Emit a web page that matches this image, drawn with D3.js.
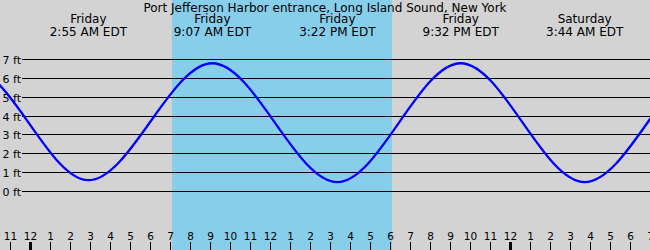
<!DOCTYPE html>
<html>
<head>
<meta charset="utf-8">
<script src="https://cdn.jsdelivr.net/npm/d3@7"></script>
<style>
  html, body { margin: 0; padding: 0; background: #fff; }
  svg { display: block; font-family: "DejaVu Sans", sans-serif; }
</style>
</head>
<body>
<svg id="chart" width="650" height="250"></svg>
<script>
// tide extremes, hours after Friday midnight (outer ones fall outside the view)
const extremeHours = [-9.1, -2.92, 2.917, 9.117, 15.367, 21.533, 27.733, 34.08, 40.3];
const extremeFeet = [0.6, 6.5, 0.6, 6.8, 0.5, 6.8, 0.5, 6.9, 0.5];

// labelled extremes along the top
const labelHours = [2.917, 9.117, 15.367, 21.533, 27.733];
const labelDays = ["Friday", "Friday", "Friday", "Friday", "Saturday"];
const labelTimes = ["2:55 AM EDT", "9:07 AM EDT", "3:22 PM EDT", "9:32 PM EDT", "3:44 AM EDT"];

// daylight (sunrise / sunset), hours after Friday midnight
const daylight = [7.1, 18.1];

const feetTicks = [0, 1, 2, 3, 4, 5, 6, 7];
const hourTicks = d3.range(-1, 32);

const title = "Port Jefferson Harbor entrance, Long Island Sound, New York";

const width = 650, height = 250;

const x = d3.scaleLinear().domain([-1.5, 31]).range([0, width]);
const y = d3.scaleLinear().domain([0, 7]).range([191.5, 59.5]);

const svg = d3.select("#chart");

svg.append("rect")
  .attr("width", width).attr("height", height)
  .attr("fill", "#d3d3d3");

// daylight band
svg.append("rect")
  .attr("x", x(daylight[0]))
  .attr("y", 0)
  .attr("width", x(daylight[1]) - x(daylight[0]))
  .attr("height", height)
  .attr("fill", "#87ceeb");

// horizontal grid
svg.append("g")
  .selectAll("line")
  .data(feetTicks)
  .join("line")
  .attr("x1", 22).attr("x2", width)
  .attr("y1", d => Math.floor(y(d)) + 0.5)
  .attr("y2", d => Math.floor(y(d)) + 0.5)
  .attr("stroke", "#000")
  .attr("stroke-width", 1);

svg.append("g")
  .selectAll("text")
  .data(feetTicks)
  .join("text")
  .attr("x", 21)
  .attr("y", d => Math.floor(y(d)) + 4.5)
  .attr("text-anchor", "end")
  .attr("font-size", "11px")
  .attr("fill", "#000")
  .text(d => `${d} ft`);

// tide curve
svg.append("clipPath").attr("id", "plot-clip")
  .append("rect").attr("width", width).attr("height", height);

const points = extremeHours.map((h, i) => [h, extremeFeet[i]]);
const line = d3.line()
  .x(d => x(d[0]))
  .y(d => y(d[1]))
  .curve(d3.curveMonotoneX);

svg.append("path")
  .datum(points)
  .attr("clip-path", "url(#plot-clip)")
  .attr("d", line)
  .attr("fill", "none")
  .attr("stroke", "#0000ff")
  .attr("stroke-width", 2.3);

// hour ticks along bottom
const ticks = svg.append("g");
ticks.selectAll("line")
  .data(hourTicks)
  .join("line")
  .attr("x1", d => Math.round(x(d)) + 0.5)
  .attr("x2", d => Math.round(x(d)) + 0.5)
  .attr("y1", 242).attr("y2", height)
  .attr("stroke", "#000")
  .attr("stroke-width", d => (d % 24 === 0 ? 3 : 1));

ticks.selectAll("text")
  .data(hourTicks)
  .join("text")
  .attr("x", d => x(d) + 0.5)
  .attr("y", 239.5)
  .attr("text-anchor", "middle")
  .attr("font-size", "10.5px")
  .attr("fill", "#000")
  .text(d => {
    const h = ((d % 12) + 12) % 12;
    return h === 0 ? 12 : h;
  });

// title and extreme labels
svg.append("text")
  .attr("x", width / 2)
  .attr("y", 12)
  .attr("text-anchor", "middle")
  .attr("font-size", "12px")
  .attr("fill", "#000")
  .text(title);

const heads = svg.append("g")
  .selectAll("g")
  .data(labelHours)
  .join("g")
  .attr("transform", d => `translate(${x(d)},0)`);

heads.append("text")
  .attr("y", 23)
  .attr("text-anchor", "middle")
  .attr("font-size", "12px")
  .attr("fill", "#000")
  .text((d, i) => labelDays[i]);

heads.append("text")
  .attr("y", 35.5)
  .attr("text-anchor", "middle")
  .attr("font-size", "12px")
  .attr("fill", "#000")
  .text((d, i) => labelTimes[i]);
</script>
</body>
</html>
